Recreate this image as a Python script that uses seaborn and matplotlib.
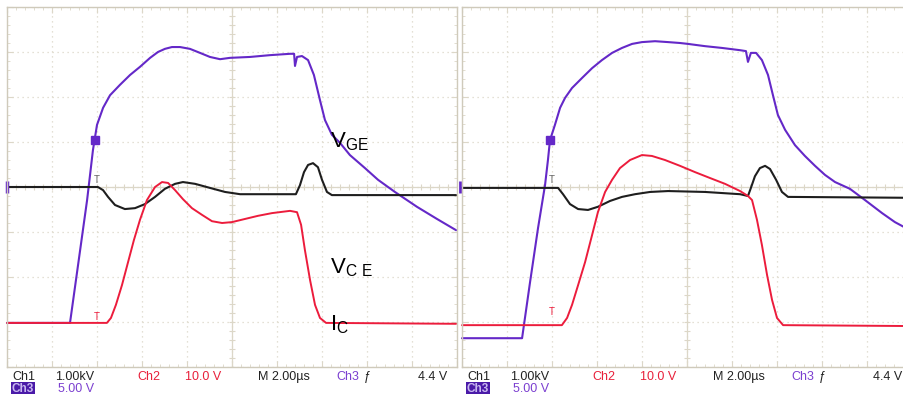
import numpy as np
import pandas as pd
import seaborn as sns
import matplotlib.pyplot as plt

# time in us (2 us/div), level in screen divisions (0 = bottom, 8 = top)
# ---- left capture ----
vge_l_t = [0.00, 2.80, 3.56, 3.82, 4.00, 4.27, 4.58, 5.02, 5.47, 5.91, 6.36, 6.71, 7.02, 7.33, 7.69,
           8.13, 8.58, 9.02, 9.47, 9.91, 10.80, 11.69, 12.58, 12.76, 12.80, 12.89, 13.11, 13.38,
           13.64, 13.91, 14.13, 14.44, 14.80, 15.24, 15.91, 16.49, 17.24, 18.22, 19.11, 19.96]
vge_l_v = [0.98, 0.98, 3.71, 4.82, 5.38, 5.76, 6.04, 6.27, 6.49, 6.67, 6.87, 7.00, 7.07, 7.11, 7.11,
           7.07, 6.98, 6.89, 6.84, 6.87, 6.89, 6.93, 6.96, 6.96, 6.69, 6.89, 6.91, 6.82,
           6.49, 5.93, 5.49, 5.16, 4.98, 4.71, 4.42, 4.16, 3.89, 3.56, 3.29, 3.04]

vce_l_t = [0.00, 4.04, 4.27, 4.49, 4.80, 5.24, 5.69, 6.13, 6.58, 7.02, 7.47, 7.82, 8.36, 9.02, 9.69,
           10.36, 12.84, 13.02, 13.20, 13.38, 13.60, 13.82, 14.00, 14.22, 14.44, 19.96]
vce_l_v = [4.00, 4.00, 3.93, 3.78, 3.60, 3.51, 3.53, 3.62, 3.78, 3.96, 4.07, 4.11, 4.07, 3.98, 3.89,
           3.84, 3.84, 4.04, 4.33, 4.49, 4.53, 4.44, 4.16, 3.89, 3.82, 3.82]

ic_l_t = [0.00, 4.44, 4.62, 4.84, 5.11, 5.38, 5.64, 5.91, 6.22, 6.58, 6.89, 7.16, 7.47, 7.82, 8.22,
          8.67, 9.11, 9.56, 10.00, 10.58, 11.16, 11.78, 12.58, 12.89, 13.07, 13.24, 13.47, 13.69,
          13.91, 14.18, 19.96]
ic_l_v = [0.98, 0.98, 1.09, 1.38, 1.82, 2.33, 2.82, 3.27, 3.71, 4.00, 4.11, 4.09, 3.93, 3.73, 3.53,
          3.38, 3.24, 3.20, 3.22, 3.29, 3.36, 3.42, 3.47, 3.44, 3.16, 2.60, 1.93, 1.38,
          1.09, 0.98, 0.96]

# ---- right capture ----
vge_r_t = [0.00, 2.67, 3.02, 3.38, 3.69, 3.82, 3.91, 4.13, 4.36, 4.58, 4.89, 5.33, 5.78, 6.22, 6.67,
           7.11, 7.56, 8.00, 8.58, 9.16, 9.69, 10.04, 10.80, 11.56, 12.36, 12.62, 12.71, 12.84,
           13.07, 13.33, 13.60, 13.82, 14.04, 14.36, 14.80, 15.24, 15.69, 16.13, 16.58, 17.24,
           17.91, 18.67, 19.24, 19.91]
vge_r_v = [0.64, 0.64, 1.87, 3.09, 4.04, 4.60, 5.04, 5.38, 5.76, 5.98, 6.20, 6.42, 6.64, 6.82, 6.98,
           7.09, 7.18, 7.22, 7.24, 7.22, 7.20, 7.18, 7.13, 7.09, 7.04, 7.02, 6.78, 6.98,
           6.98, 6.82, 6.49, 6.04, 5.60, 5.27, 4.93, 4.69, 4.47, 4.27, 4.11, 3.96,
           3.71, 3.42, 3.22, 3.04]

vce_r_t = [0.00, 4.27, 4.49, 4.80, 5.16, 5.60, 6.04, 6.58, 7.11, 7.69, 8.36, 9.16, 10.80, 12.36,
           12.71, 12.84, 13.02, 13.24, 13.47, 13.69, 13.96, 14.22, 14.49, 19.91]
vce_r_v = [3.98, 3.98, 3.84, 3.62, 3.51, 3.49, 3.56, 3.69, 3.78, 3.84, 3.89, 3.91, 3.89, 3.84,
           3.80, 3.98, 4.24, 4.42, 4.47, 4.40, 4.16, 3.89, 3.78, 3.76]

ic_r_t = [0.00, 4.44, 4.67, 4.89, 5.16, 5.47, 5.78, 6.04, 6.36, 6.67, 7.02, 7.47, 8.00, 8.44, 9.02,
          9.69, 10.36, 11.02, 11.69, 12.36, 12.71, 12.89, 13.11, 13.33, 13.56, 13.78, 14.00,
          14.27, 19.91]
ic_r_v = [0.93, 0.93, 1.09, 1.38, 1.82, 2.33, 2.93, 3.44, 3.89, 4.16, 4.42, 4.60, 4.71, 4.69, 4.60,
          4.47, 4.33, 4.20, 4.07, 3.91, 3.80, 3.71, 3.27, 2.71, 2.04, 1.49, 1.09,
          0.93, 0.91]

readout = [("Ch1", 5, "#222222"), ("1.00kV", 48, "#222222"), ("Ch2", 130, "#e8203a"),
           ("10.0 V", 178, "#e8203a"), ("M 2.00\u00b5s", 251, "#222222"),
           ("Ch3", 329, "#7b3fd0"), ("\u0192", 357, "#222222"), ("4.4 V", 411, "#222222")]

PURPLE = "#6428c8"
RED = "#ec1c3c"
BLACK = "#1e1e1e"
GRIDC = "#dcd7c8"

sns.set_style("white")
plt.rcParams['font.family'] = ['Liberation Sans', 'DejaVu Sans']
plt.rcParams['mathtext.fontset'] = 'custom'
plt.rcParams['mathtext.rm'] = 'Liberation Sans'

W, H = 904, 394
fig = plt.figure(figsize=(W / 100, H / 100), dpi=100)


def scope_axes(left_px):
    ax = fig.add_axes([left_px / W, 1 - 367 / H, 450 / W, 360 / H])
    ax.set_xlim(0, 20)
    ax.set_ylim(0, 8)
    ax.set_xticks(np.arange(0, 21, 2))
    ax.set_yticks(np.arange(0, 9, 1))
    ax.set_xticks(np.arange(0, 20.01, 0.4), minor=True)
    ax.set_yticks(np.arange(0, 8.01, 0.2), minor=True)
    ax.tick_params(which='both', direction='in', colors=GRIDC, labelbottom=False, labelleft=False,
                   top=True, right=True, bottom=True, left=True)
    ax.tick_params(which='major', length=4)
    ax.tick_params(which='minor', length=2)
    ax.grid(True, which='major', color=GRIDC, linestyle=(0, (1, 3)), linewidth=0.9)
    for s in ax.spines.values():
        s.set_color("#cfcabb")
        s.set_linewidth(1.0)
    ax.axvline(10, color=GRIDC, lw=0.9)
    ax.axhline(4, color=GRIDC, lw=0.9)
    ax.plot(np.arange(0, 20.01, 0.4), np.full(51, 4), '|', color=GRIDC, ms=4, mew=0.8)
    ax.plot(np.full(41, 10), np.arange(0, 8.01, 0.2), '_', color=GRIDC, ms=4, mew=0.8)
    return ax


def draw(ax, traces):
    for t, v, c, lw in traces:
        df = pd.DataFrame({"t": t, "v": v})
        sns.lineplot(data=df, x="t", y="v", ax=ax, color=c, linewidth=lw, sort=False,
                     estimator=None, clip_on=False)
    ax.set_xlabel("")
    ax.set_ylabel("")


ax1 = scope_axes(7)
draw(ax1, [(vge_l_t, vge_l_v, PURPLE, 1.5), (vce_l_t, vce_l_v, BLACK, 1.5), (ic_l_t, ic_l_v, RED, 1.4)])
ax2 = scope_axes(462)
draw(ax2, [(vge_r_t, vge_r_v, PURPLE, 1.5), (vce_r_t, vce_r_v, BLACK, 1.5), (ic_r_t, ic_r_v, RED, 1.4)])

for ax, v_ic in [(ax1, 1.04), (ax2, 1.16)]:
    ax.plot([3.91], [5.04], 's', color=PURPLE, ms=6)
    ax.text(4.0, 4.05, "T", color="#666666", fontsize=7, ha='center', va='bottom')
    ax.text(4.0, v_ic - 0.05, "T", color=RED, fontsize=7, ha='center', va='bottom')
ax1.plot([0], [4.0], '|', color=PURPLE, ms=9, mew=2.5, clip_on=False)
ax2.plot([-0.1], [4.0], '|', color=PURPLE, ms=9, mew=2.0, clip_on=False)

# trace labels
ax1.text(14.36, 4.89, r"$\mathregular{V_{GE}}$", fontsize=16, color="black", va='baseline')
ax1.text(14.36, 2.09, r"$\mathregular{V_{C\ E}}$", fontsize=16, color="black", va='baseline')
ax1.text(14.36, 0.82, r"$\mathregular{I_{C}}$", fontsize=16, color="black", va='baseline')

# readout rows
for off in (0, 455):
    for txt, x, c in readout:
        fig.text((x + 7 + off) / W, 1 - 377 / H, txt, color=c, fontsize=9, va='center')
    fig.text((12 + off) / W, 1 - 389 / H, "Ch3", color="#c9b8f0", fontsize=8.5, va='center',
             fontweight='bold', bbox=dict(boxstyle='square,pad=0.1', fc="#4a1aa8", ec='none'))
    fig.text((58 + off) / W, 1 - 389 / H, "5.00 V", color="#7b3fd0", fontsize=9, va='center')

fig.savefig("out.png", dpi=100)
